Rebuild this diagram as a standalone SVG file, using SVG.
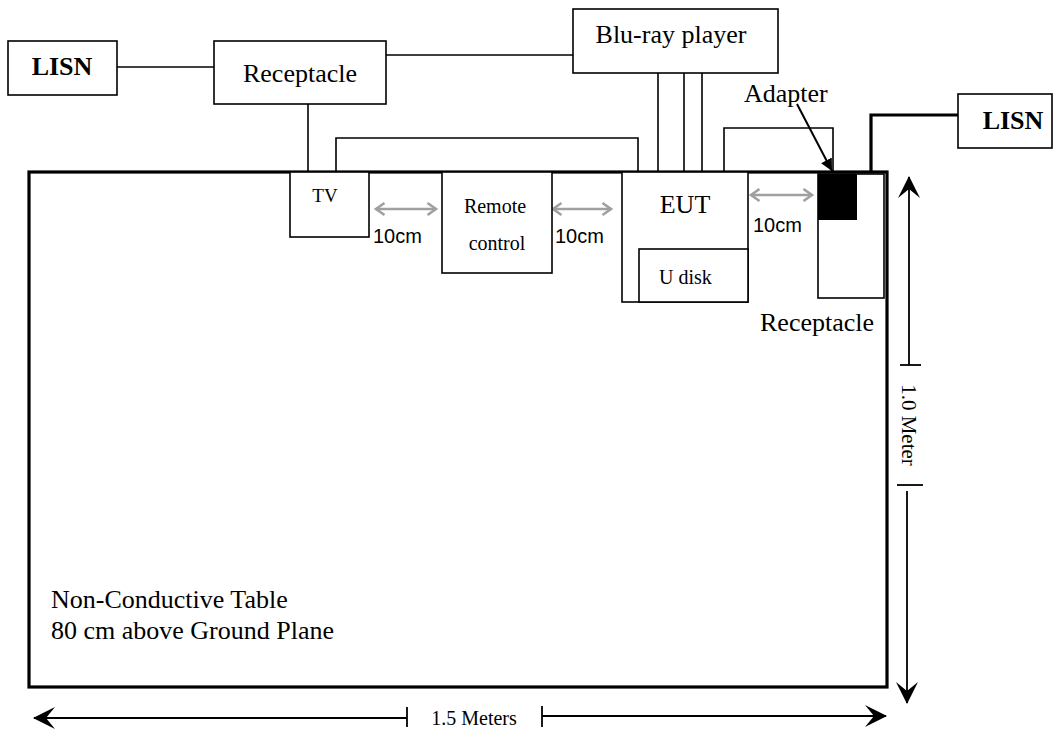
<svg xmlns="http://www.w3.org/2000/svg" width="1060" height="732" viewBox="0 0 1060 732">
<style>
.box{fill:#fff;stroke:#000;stroke-width:1.6}
.t{font-family:"Liberation Serif","Times New Roman",serif;fill:#000}
.s{font-family:"Liberation Sans",Arial,sans-serif;fill:#000}
.w{fill:none;stroke:#000;stroke-width:1.6}
.g{fill:none;stroke:#a0a0a0;stroke-width:2.4}
.d{fill:none;stroke:#000;stroke-width:1.8}
</style>
<defs>
<marker id="ga" markerUnits="userSpaceOnUse" markerWidth="14" markerHeight="16" refX="10" refY="7" orient="auto-start-reverse" viewBox="0 0 14 14">
<path d="M1.5,1 L10,7 L1.5,13" fill="none" stroke="#a0a0a0" stroke-width="2.6"/>
</marker>
<marker id="da" markerUnits="userSpaceOnUse" markerWidth="24" markerHeight="24" refX="21" refY="11" orient="auto-start-reverse" viewBox="0 0 24 22">
<path d="M22,11 L0,0 L9,11 L0,22 Z" fill="#000"/>
</marker>
<marker id="aa" markerUnits="userSpaceOnUse" markerWidth="14" markerHeight="14" refX="12" refY="6" orient="auto" viewBox="0 0 14 12">
<path d="M12,6 L0,0 L0,12 Z" fill="#000"/>
</marker>
</defs>

<g id="table">
<rect x="29" y="172" width="858" height="515" fill="#fff" stroke="#000" stroke-width="3.2"/>
<text class="t" x="51" y="608" font-size="26">Non-Conductive Table</text>
<text class="t" x="51" y="639" font-size="26">80 cm above Ground Plane</text>
</g>

<g id="connectors">
<line class="w" x1="117" y1="67" x2="214" y2="67"/>
<line class="w" x1="386" y1="55" x2="573" y2="55"/>
<line class="w" x1="308" y1="104" x2="308" y2="172"/>
<polyline class="w" points="336,172 336,138 638,138 638,172"/>
<line class="w" x1="658" y1="73" x2="658" y2="172"/>
<line class="w" x1="684" y1="73" x2="684" y2="172"/>
<line class="w" x1="702" y1="73" x2="702" y2="172"/>
<polyline class="w" points="724,172 724,128 833,128 833,172"/>
<polyline fill="none" stroke="#000" stroke-width="3.2" points="871,172 871,115 958,115"/>
<line class="g" x1="376" y1="209" x2="436" y2="209" marker-start="url(#ga)" marker-end="url(#ga)"/>
<line class="g" x1="553" y1="209" x2="611" y2="209" marker-start="url(#ga)" marker-end="url(#ga)"/>
<line class="g" x1="751" y1="195" x2="812" y2="195" marker-start="url(#ga)" marker-end="url(#ga)"/>
<line x1="797" y1="104" x2="832" y2="171" stroke="#000" stroke-width="2" marker-end="url(#aa)"/>
</g>

<g id="lisn-left">
<rect class="box" x="8" y="41" width="109" height="54"/>
<text class="t" x="62" y="75" font-size="26" font-weight="bold" text-anchor="middle">LISN</text>
</g>
<g id="receptacle-left">
<rect class="box" x="214" y="41" width="172" height="63"/>
<text class="t" x="300" y="82" font-size="26" text-anchor="middle">Receptacle</text>
</g>
<g id="bluray">
<rect class="box" x="573" y="9" width="205" height="64"/>
<text class="t" x="671" y="43" font-size="26" text-anchor="middle">Blu-ray player</text>
</g>
<g id="lisn-right">
<rect class="box" x="958" y="94" width="94" height="54"/>
<text class="t" x="1013" y="129" font-size="26" font-weight="bold" text-anchor="middle">LISN</text>
</g>
<g id="tv">
<rect class="box" x="290" y="172" width="79" height="65"/>
<text class="t" x="325" y="202" font-size="19" text-anchor="middle">TV</text>
</g>
<g id="remote">
<rect class="box" x="442" y="172" width="110" height="101"/>
<text class="t" x="495" y="213" font-size="20" text-anchor="middle">Remote</text>
<text class="t" x="497" y="250" font-size="20" text-anchor="middle">control</text>
</g>
<g id="eut">
<rect class="box" x="622" y="172" width="126" height="130"/>
<text class="t" x="685" y="213" font-size="26" text-anchor="middle">EUT</text>
</g>
<g id="udisk">
<rect class="box" x="639" y="249" width="109" height="53"/>
<text class="t" x="659" y="284" font-size="20">U disk</text>
</g>
<g id="receptacle-right">
<rect class="box" x="818" y="174" width="66" height="124"/>
<text class="t" x="760" y="331" font-size="26">Receptacle</text>
</g>
<g id="adapter">
<rect x="818" y="174" width="39" height="46" fill="#000"/>
<text class="t" x="744" y="102" font-size="26">Adapter</text>
</g>

<g id="labels">
<text class="s" x="373" y="243" font-size="20">10cm</text>
<text class="s" x="555" y="243" font-size="20">10cm</text>
<text class="s" x="753" y="232" font-size="20">10cm</text>
</g>

<g id="dimensions">
<line class="d" x1="909" y1="365" x2="909" y2="177" marker-end="url(#da)"/>
<line class="d" x1="900" y1="365" x2="921" y2="365"/>
<line class="d" x1="897" y1="485" x2="923" y2="485"/>
<line class="d" x1="907" y1="491" x2="907" y2="703" marker-end="url(#da)"/>
<text class="t" x="0" y="0" font-size="21" text-anchor="middle" transform="translate(902,425) rotate(90)">1.0 Meter</text>
<line class="d" x1="407" y1="718" x2="34" y2="718" marker-end="url(#da)"/>
<line class="d" x1="407" y1="707" x2="407" y2="727"/>
<line class="d" x1="542" y1="706" x2="542" y2="727"/>
<line class="d" x1="542" y1="716" x2="886" y2="716" marker-end="url(#da)"/>
<text class="t" x="474" y="725" font-size="20" text-anchor="middle">1.5 Meters</text>
</g>
</svg>
